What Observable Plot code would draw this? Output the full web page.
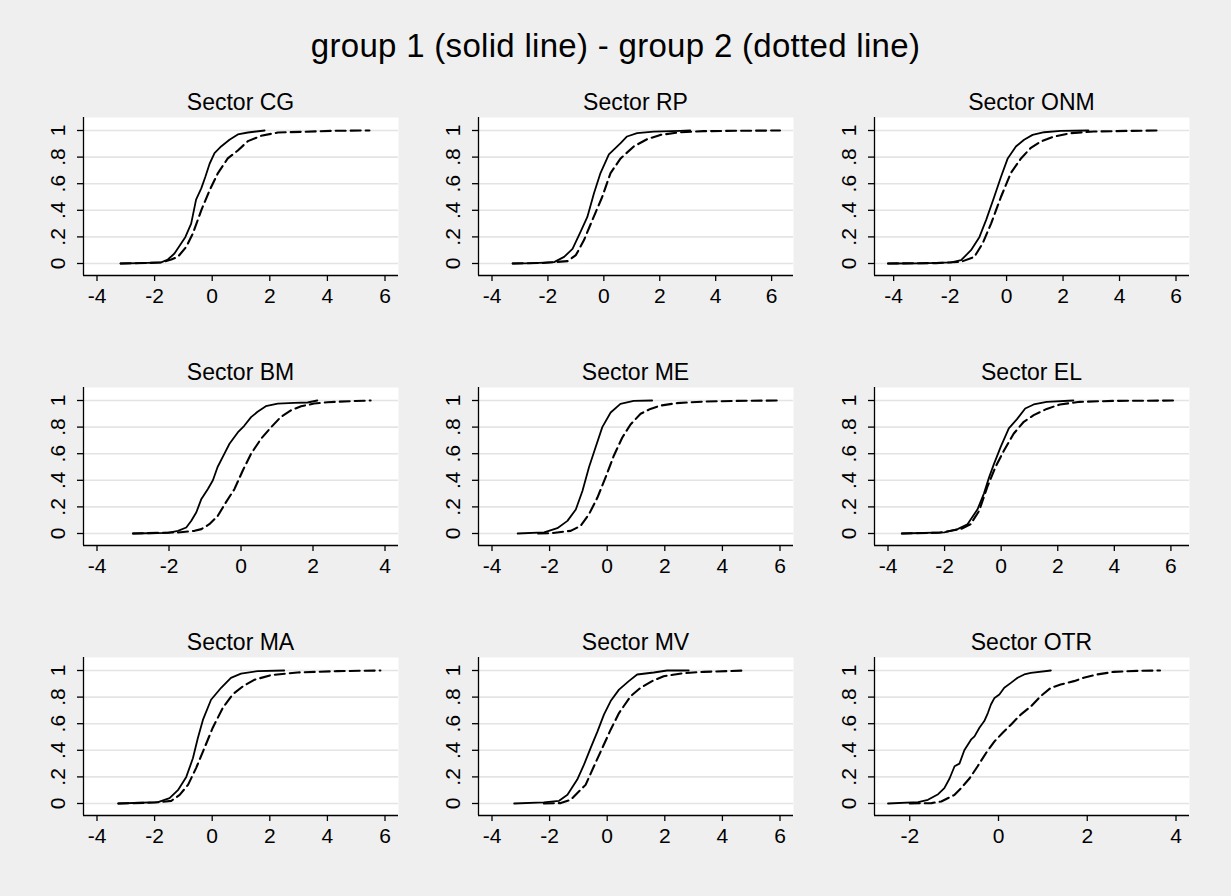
<!DOCTYPE html>
<html><head><meta charset="utf-8">
<script src="https://cdn.jsdelivr.net/npm/d3@7"></script>
<script src="https://cdn.jsdelivr.net/npm/@observablehq/plot@0.6"></script>
<style>
html,body{margin:0;padding:0;background:#efefef;}
#wrap{position:relative;width:1231px;height:896px;background:#efefef;font-family:"Liberation Sans",Arial,sans-serif;color:#000;overflow:hidden;}
.main{position:absolute;left:0;top:29px;width:1231px;text-align:center;font-size:33px;line-height:33px;letter-spacing:0.3px;}
.ptitle{position:absolute;width:315px;text-align:center;font-size:23px;line-height:23px;}
.panel{position:absolute;}
</style></head><body><div id="wrap"><div class="main">group 1 (solid line) - group 2 (dotted line)</div></div>
<script>
// Sector names (reading order)
const sectors = ["CG", "RP", "ONM", "BM", "ME", "EL", "MA", "MV", "OTR"];

// Tick labels
const ticksWide = [-4, -2, 0, 2, 4, 6];
const ticksBM = [-4, -2, 0, 2, 4];
const ticksOTR = [-2, 0, 2, 4];
const yTicks = [0, 0.2, 0.4, 0.6, 0.8, 1];

// Empirical CDFs: [value, cumulative share]; solid = group 1, dashed = group 2
const cgSolid = [[-3.18,0],[-2.5,0.003],[-1.77,0.008],[-1.54,0.03],[-1.31,0.075],[-0.93,0.2],[-0.73,0.3],[-0.56,0.48],[-0.38,0.565],[-0.24,0.65],[-0.09,0.75],[0.08,0.83],[0.31,0.88],[0.6,0.93],[0.89,0.97],[1.24,0.985],[1.82,1.0]];
const cgDashed = [[-3.18,0],[-2.2,0.004],[-1.77,0.008],[-1.42,0.03],[-1.19,0.05],[-0.9,0.126],[-0.67,0.226],[-0.38,0.4],[-0.09,0.55],[0.2,0.68],[0.54,0.79],[0.89,0.85],[1.24,0.92],[1.7,0.96],[2.28,0.985],[3.09,0.99],[4.24,0.998],[5.46,1.0]];

const rpSolid = [[-3.26,0],[-2.5,0.003],[-1.78,0.01],[-1.42,0.05],[-1.12,0.11],[-0.83,0.24],[-0.59,0.35],[-0.35,0.53],[-0.12,0.68],[0.18,0.82],[0.6,0.905],[0.83,0.955],[1.19,0.98],[1.78,0.992],[2.73,0.997],[3.09,1.0]];
const rpDashed = [[-3.26,0],[-2.2,0.004],[-1.3,0.018],[-1.0,0.063],[-0.71,0.176],[-0.41,0.327],[-0.06,0.5],[0.24,0.68],[0.6,0.79],[1.07,0.88],[1.55,0.935],[2.02,0.967],[2.73,0.987],[3.57,0.995],[4.75,0.998],[6.3,1.0]];

const onmSolid = [[-4.2,0],[-3,0.001],[-1.96,0.008],[-1.61,0.025],[-1.26,0.1],[-0.96,0.2],[-0.72,0.33],[-0.44,0.5],[-0.2,0.65],[0.04,0.79],[0.33,0.88],[0.62,0.93],[0.92,0.967],[1.33,0.987],[1.92,0.997],[2.9,1.0]];
const onmDashed = [[-4.2,0],[-2.5,0.003],[-1.61,0.013],[-1.14,0.05],[-0.85,0.15],[-0.55,0.3],[-0.2,0.5],[0.15,0.68],[0.51,0.79],[0.86,0.87],[1.21,0.917],[1.68,0.955],[2.27,0.98],[3.09,0.992],[4.27,0.997],[5.39,1.0]];

const bmSolid = [[-3.0,0],[-2.03,0.005],[-1.75,0.02],[-1.52,0.045],[-1.38,0.096],[-1.24,0.16],[-1.1,0.26],[-0.92,0.335],[-0.78,0.4],[-0.65,0.5],[-0.46,0.6],[-0.32,0.675],[-0.09,0.76],[0.09,0.81],[0.28,0.875],[0.46,0.915],[0.69,0.957],[1.02,0.977],[1.48,0.982],[1.85,0.985],[2.12,1.0]];
const bmDashed = [[-3.0,0],[-1.75,0.008],[-1.29,0.02],[-1.1,0.033],[-0.88,0.07],[-0.65,0.13],[-0.42,0.234],[-0.18,0.335],[0.05,0.474],[0.28,0.6],[0.56,0.713],[0.84,0.8],[1.11,0.877],[1.39,0.927],[1.67,0.957],[2.03,0.977],[2.4,0.987],[3.05,0.995],[3.6,1.0]];

const meSolid = [[-3.11,0],[-2.19,0.008],[-1.73,0.04],[-1.38,0.095],[-1.09,0.18],[-0.86,0.32],[-0.63,0.5],[-0.4,0.65],[-0.17,0.8],[0.12,0.91],[0.46,0.975],[0.92,0.997],[1.56,1.0]];
const meDashed = [[-2.4,0],[-1.96,0.002],[-1.27,0.02],[-0.92,0.058],[-0.63,0.146],[-0.34,0.27],[-0.06,0.42],[0.23,0.585],[0.52,0.72],[0.81,0.82],[1.16,0.9],[1.5,0.937],[1.85,0.962],[2.42,0.98],[3.35,0.992],[4.5,0.997],[6.0,1.0]];

const elSolid = [[-3.51,0],[-2.01,0.008],[-1.54,0.033],[-1.19,0.07],[-0.84,0.18],[-0.61,0.3],[-0.43,0.42],[-0.26,0.52],[-0.02,0.65],[0.27,0.79],[0.56,0.86],[0.85,0.94],[1.15,0.97],[1.61,0.99],[2.55,1.0]];
const elDashed = [[-3.51,0],[-2.2,0.006],[-1.43,0.033],[-1.08,0.07],[-0.78,0.17],[-0.49,0.35],[-0.2,0.5],[0.09,0.62],[0.44,0.75],[0.8,0.84],[1.15,0.89],[1.61,0.937],[2.08,0.97],[2.78,0.99],[3.95,0.997],[6.18,1.0]];

const maSolid = [[-3.26,0],[-1.88,0.01],[-1.48,0.04],[-1.19,0.1],[-0.9,0.2],[-0.67,0.34],[-0.5,0.49],[-0.32,0.63],[-0.04,0.78],[0.31,0.87],[0.65,0.945],[1.0,0.977],[1.58,0.995],[2.5,1.0]];
const maDashed = [[-3.26,0],[-2.0,0.007],[-1.42,0.02],[-1.13,0.065],[-0.84,0.14],[-0.56,0.266],[-0.27,0.417],[0.02,0.57],[0.37,0.72],[0.71,0.82],[1.06,0.88],[1.46,0.93],[2.04,0.965],[2.96,0.985],[4.34,0.995],[5.84,1.0]];

const mvSolid = [[-3.23,0],[-2.2,0.008],[-1.67,0.02],[-1.38,0.065],[-1.04,0.18],[-0.81,0.29],[-0.57,0.42],[-0.34,0.54],[-0.11,0.67],[0.12,0.77],[0.41,0.856],[0.75,0.92],[1.04,0.97],[1.62,0.985],[2.08,1.0],[2.83,1.0]];
const mvDashed = [[-2.2,0],[-1.61,0.003],[-1.27,0.028],[-0.75,0.14],[-0.46,0.28],[-0.17,0.417],[0.12,0.555],[0.41,0.68],[0.81,0.806],[1.16,0.87],[1.56,0.92],[1.96,0.957],[2.65,0.98],[3.35,0.99],[4.79,1.0]];

const otrSolid = [[-2.49,0],[-1.81,0.01],[-1.59,0.028],[-1.36,0.07],[-1.22,0.116],[-1.1,0.19],[-0.99,0.28],[-0.88,0.3],[-0.77,0.4],[-0.62,0.48],[-0.54,0.505],[-0.43,0.57],[-0.32,0.62],[-0.24,0.68],[-0.17,0.744],[-0.09,0.794],[0.02,0.82],[0.13,0.87],[0.28,0.907],[0.43,0.945],[0.58,0.97],[0.73,0.982],[1.18,1.0]];
const otrDashed = [[-2.0,0],[-1.51,0.003],[-1.29,0.015],[-0.99,0.065],[-0.84,0.116],[-0.65,0.19],[-0.47,0.28],[-0.28,0.38],[-0.09,0.467],[0.09,0.53],[0.28,0.593],[0.5,0.668],[0.73,0.73],[0.95,0.807],[1.18,0.87],[1.4,0.894],[1.7,0.92],[1.92,0.945],[2.22,0.97],[2.6,0.99],[3.12,0.997],[3.64,1.0]];

const solids = [cgSolid, rpSolid, onmSolid, bmSolid, meSolid, elSolid, maSolid, mvSolid, otrSolid];
const dashes = [cgDashed, rpDashed, onmDashed, bmDashed, meDashed, elDashed, maDashed, mvDashed, otrDashed];
const xTicks = [ticksWide, ticksWide, ticksWide, ticksBM, ticksWide, ticksWide, ticksWide, ticksWide, ticksOTR];

// Layout
const colLeft = [83, 478, 874];
const rowTop = [117, 387, 657];
const FW = 315, FH = 158;
const M = {left: 56, right: 6, top: 8, bottom: 46};
const INX = 13.5, INTOP = 13, INBOT = 12;

const wrap = document.getElementById("wrap");
const yFmt = d => d === 0 ? "0" : d === 1 ? "1" : String(d).replace(/^0/, "");

sectors.forEach((name, i) => {
  const r = Math.floor(i / 3), c = i % 3;
  const solid = solids[i], dashed = dashes[i], ticks = xTicks[i];
  const xs = solid.concat(dashed).map(d => d[0]);
  const lo = Math.min(d3.min(xs), ticks[0]);
  const hi = Math.max(d3.max(xs), ticks[ticks.length - 1]);
  const pad = INX * (hi - lo) / (FW - 2 * INX);
  const xd = [lo - pad, hi + pad];
  const ypx = (FH - INTOP - INBOT);
  const yd = [-INBOT / ypx, 1 + INTOP / ypx];

  const chart = Plot.plot({
    width: FW + M.left + M.right,
    height: FH + M.top + M.bottom,
    marginLeft: M.left, marginRight: M.right, marginTop: M.top, marginBottom: M.bottom,
    x: {domain: xd, label: null},
    y: {domain: yd, label: null},
    style: {background: "transparent", fontFamily: "'Liberation Sans', Arial, sans-serif", fontSize: "21px", color: "#000", overflow: "visible"},
    marks: [
      Plot.frame({fill: "white", stroke: "none"}),
      Plot.gridY(yTicks, {stroke: "#e4e4e4", strokeOpacity: 1, strokeWidth: 1.6}),
      Plot.ruleX([xd[0]], {stroke: "#000", strokeWidth: 1.3}),
      Plot.ruleY([yd[0]], {stroke: "#000", strokeWidth: 1.3}),
      Plot.axisX(ticks, {tickSize: 6, tickPadding: 7, tickFormat: d => String(d), strokeWidth: 1.3}),
      Plot.axisY(yTicks, {tickSize: 6, tickFormat: () => "", strokeWidth: 1.3}),
      Plot.text(yTicks, {y: d => d, text: yFmt, frameAnchor: "left", dx: -25, rotate: -90, textAnchor: "middle", lineAnchor: "middle", fontSize: 21}),
      Plot.line(dashed, {x: d => d[0], y: d => d[1], stroke: "#000", strokeWidth: 2.1, strokeDasharray: "10,5"}),
      Plot.line(solid, {x: d => d[0], y: d => d[1], stroke: "#000", strokeWidth: 1.8})
    ]
  });
  chart.classList.add("panel");
  chart.style.left = (colLeft[c] - M.left) + "px";
  chart.style.top = (rowTop[r] - M.top) + "px";
  wrap.appendChild(chart);

  const t = document.createElement("div");
  t.className = "ptitle";
  t.textContent = "Sector " + name;
  t.style.left = colLeft[c] + "px";
  t.style.top = (rowTop[r] - 26) + "px";
  wrap.appendChild(t);
});
</script>
</body></html>
